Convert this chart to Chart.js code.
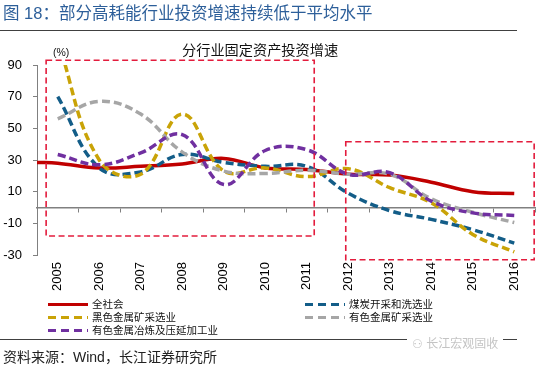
<!DOCTYPE html>
<html>
<head>
<meta charset="utf-8">
<script src="https://cdn.jsdelivr.net/npm/chart.js@4.4.1/dist/chart.umd.min.js"></script>
<style>
  body { margin: 0; background: #fff; }
  #wrap { position: relative; width: 550px; height: 369px; overflow: hidden;
          font-family: "Liberation Sans", Arial, "Noto Sans CJK SC", sans-serif; }
  #chart { position: absolute; left: 0; top: 0; }
  .t { position: absolute; white-space: nowrap; }
  .rule { position: absolute; height: 0; border-top: 1.5px solid #404040; }
  .sample { position: absolute; width: 40px; height: 3.5px; }
</style>
</head>
<body>
<div id="wrap">
  <canvas id="chart" width="550" height="369"></canvas>

  <div class="t" style="left:3px; top:3px; font-size:16.5px; line-height:20px; color:#2d5f9a;">图 18：部分高耗能行业投资增速持续低于平均水平</div>
  <div class="rule" style="left:0; top:30px; width:517px;"></div>

  <div class="t" style="left:182px; top:41px; font-size:14.2px; line-height:18px; color:#111;">分行业固定资产投资增速</div>
  <div class="t" style="left:53px; top:46px; font-size:10.5px; line-height:12px; color:#111;">(%)</div>

  <div id="legend"></div>

  <div class="rule" style="left:0; top:339px; width:407px;"></div>
  <div class="rule" style="left:503px; top:339px; width:14px;"></div>
  <div class="t" style="left:412px; top:336px; font-size:12px; line-height:16px; color:#c4c4c4;">⚇ 长江宏观固收</div>
  <div class="t" style="left:3px; top:348px; font-size:14px; line-height:18px; color:#222;">资料来源：Wind，长江证券研究所</div>
</div>

<script>
// years on the axis, each value sits mid-year
const years = [2005, 2006, 2007, 2008, 2009, 2010, 2011, 2012, 2013, 2014, 2015, 2016];

// 全社会 (starts at the left edge of 2005)
const totalStart = 28.5;
const totalSociety = [28, 25, 26, 27.5, 31, 25, 24, 21, 20.5, 16, 10, 8.8];
// 煤炭开采和洗选业
const coalMining = [70, 25, 22.5, 33.5, 28.5, 26, 26, 9, -2, -7.5, -14, -22.5];
// 黑色金属矿采选业
const ferrousMining = [105, 30, 21, 59, 23, 25, 19.5, 24.5, 12.5, 3, -17, -28];
// 有色金属矿采选业
const nonferrousMining = [56, 67, 59, 35, 23, 21.5, 23.5, 21, 21, 5.5, -3, -9.5];
// 有色金属冶炼及压延加工业
const nonferrousSmelting = [33.5, 27, 34.5, 46, 14.5, 36, 36.5, 21, 22, 4, -3.4, -5];

const yTicks = [-30, -10, 10, 30, 50, 70, 90];

// dashed red frames, in data units
const frames = [
  { x0: 2005.22, x1: 2011.68, y0: -18, y1: 93 },
  { x0: 2012.44, x1: 2016.98, y0: -33, y1: 41.5 },
];

const series = [
  { label: '全社会', color: '#c00000', dash: [], start: totalStart, values: totalSociety },
  { label: '煤炭开采和洗选业', color: '#135d88', dash: [8, 4], values: coalMining },
  { label: '黑色金属矿采选业', color: '#c9a307', dash: [8, 4], values: ferrousMining },
  { label: '有色金属矿采选业', color: '#a6a6a6', dash: [8, 4], values: nonferrousMining },
  { label: '有色金属冶炼及压延加工业', color: '#7030a0', dash: [8, 4], values: nonferrousSmelting },
];

const datasets = series.map((s, i) => {
  const pts = years.map((yr, j) => ({ x: yr + 0.5, y: s.values[j] }));
  if (s.start !== undefined) pts.unshift({ x: years[0], y: s.start });
  return {
    label: s.label,
    data: pts,
    borderColor: s.color,
    borderDash: s.dash,
    borderWidth: 3.5,
    pointRadius: 0,
    tension: 0.4,
    fill: false,
    order: series.length - 1 - i, // later series on top, like Excel
  };
});

// legend built from the same series list
const legendPos = [
  { left: 48, top: 298 }, { left: 305, top: 298 },
  { left: 48, top: 311 }, { left: 305, top: 311 },
  { left: 48, top: 324 },
];
const legend = document.getElementById('legend');
series.forEach((s, i) => {
  const p = legendPos[i];
  const bar = document.createElement('div');
  bar.className = 'sample';
  bar.style.left = p.left + 'px';
  bar.style.top = (p.top + 4.5) + 'px';
  bar.style.background = s.dash.length
    ? `repeating-linear-gradient(90deg, ${s.color} 0 8px, transparent 8px 13px)`
    : s.color;
  legend.appendChild(bar);
  const txt = document.createElement('div');
  txt.className = 't';
  txt.style.cssText = `left:${p.left + 44}px; top:${p.top}px; font-size:10.5px; line-height:13px; color:#111;`;
  txt.textContent = s.label;
  legend.appendChild(txt);
});

const framePlugin = {
  id: 'frames',
  afterDatasetsDraw(chart) {
    const { ctx, scales: { x, y } } = chart;
    ctx.save();
    ctx.strokeStyle = '#e31c3d';
    ctx.lineWidth = 1.6;
    ctx.setLineDash([6, 3.5]);
    frames.forEach(f => {
      const l = x.getPixelForValue(f.x0), r = x.getPixelForValue(f.x1);
      const t = y.getPixelForValue(f.y1), b = y.getPixelForValue(f.y0);
      ctx.strokeRect(l, t, r - l, b - t);
    });
    ctx.restore();
  }
};

new Chart(document.getElementById('chart'), {
  type: 'line',
  data: { datasets },
  plugins: [framePlugin],
  options: {
    responsive: false,
    animation: false,
    layout: { padding: { top: 65, right: 15, left: 0, bottom: 0 } },
    plugins: { legend: { display: false }, tooltip: { enabled: false } },
    scales: {
      // zero line with year dividers
      x: {
        type: 'linear',
        min: 2005,
        max: 2017,
        position: { y: 0 },
        afterBuildTicks: s => { s.ticks = years.concat([2017]).map(v => ({ value: v })); },
        border: { color: '#808080', width: 1.5 },
        grid: { drawOnChartArea: false, tickLength: 4, color: '#808080', lineWidth: 1 },
        ticks: { display: false },
      },
      // year labels centred in each year
      x2: {
        type: 'linear',
        axis: 'x',
        position: 'bottom',
        min: 2004.5,
        max: 2016.5,
        afterBuildTicks: s => { s.ticks = years.map(v => ({ value: v })); },
        afterFit: s => { s.height = 114; },
        border: { display: false },
        grid: { display: false, drawTicks: false },
        ticks: {
          autoSkip: false,
          minRotation: 90,
          maxRotation: 90,
          padding: 7,
          color: '#000',
          font: { size: 13, family: '"Liberation Sans", Arial, sans-serif' },
          callback: v => String(v),
        },
      },
      y: {
        type: 'linear',
        min: -30,
        max: 90,
        afterBuildTicks: s => { s.ticks = yTicks.map(v => ({ value: v })); },
        afterFit: s => { s.width = 37; },
        border: { color: '#808080', width: 1 },
        grid: { drawOnChartArea: false, tickLength: 4, color: '#808080' },
        ticks: {
          padding: 11,
          color: '#000',
          font: { size: 13, family: '"Liberation Sans", Arial, sans-serif' },
          callback: v => String(v),
        },
      },
    },
  },
});
</script>
</body>
</html>
